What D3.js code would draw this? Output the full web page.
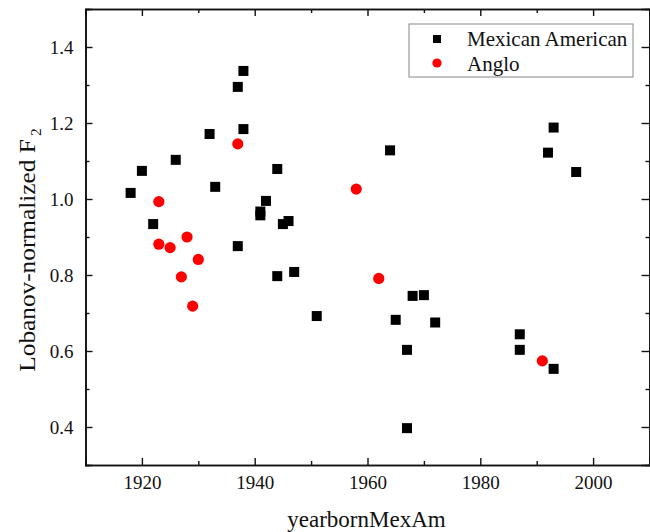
<!DOCTYPE html>
<html>
<head>
<meta charset="utf-8">
<script src="https://cdn.jsdelivr.net/npm/d3@7"></script>
<style>
  body { margin: 0; background: #fff; }
</style>
</head>
<body>
<div id="chart"></div>
<script>
// Mexican American speakers: birth year and normalized F2
const mexYears = [1918, 1920, 1926, 1932, 1922, 1933, 1937, 1938, 1938, 1937,
                  1941, 1941, 1942, 1944, 1944, 1945, 1946, 1947, 1951, 1964,
                  1965, 1967, 1968, 1970, 1972, 1967, 1987, 1987, 1992, 1993,
                  1993, 1997];
const mexF2 = [1.016, 1.074, 1.103, 1.171, 0.934, 1.032, 1.295, 1.337, 1.184, 0.876,
               0.967, 0.957, 0.995, 1.079, 0.797, 0.934, 0.942, 0.808, 0.692, 1.128,
               0.682, 0.603, 0.745, 0.747, 0.675, 0.397, 0.644, 0.603, 1.122, 1.188,
               0.553, 1.071];

// Anglo speakers
const angloYears = [1923, 1923, 1925, 1928, 1930, 1927, 1929, 1937, 1958, 1962, 1991];
const angloF2 = [0.993, 0.881, 0.872, 0.900, 0.841, 0.795, 0.718, 1.145, 1.026, 0.791, 0.574];

const xMajor = [1920, 1940, 1960, 1980, 2000];
const xMinor = [1930, 1950, 1970, 1990];
const yMajor = [0.4, 0.6, 0.8, 1.0, 1.2, 1.4];
const yMinor = [0.5, 0.7, 0.9, 1.1, 1.3];

const seriesNames = ["Mexican American", "Anglo"];

const W = 650, H = 532;
const mLeft = 85.5, mRight = 649.5, mTop = 9, mBottom = 465;
const serif = "'Liberation Serif', 'Times New Roman', serif";

const x = d3.scaleLinear().domain([1910, 2010]).range([mLeft, mRight]);
const y = d3.scaleLinear().domain([0.3, 1.5]).range([mBottom, mTop]);

const svg = d3.select("#chart").append("svg")
    .attr("width", W)
    .attr("height", H)
    .style("font-family", serif);

// axes: ticks point inward, labels only on bottom and left
function styleAxis(g) {
    g.attr("font-family", null);
    g.select(".domain").attr("stroke", "#111").attr("stroke-width", 1.6);
    g.selectAll(".tick line").attr("stroke", "#111").attr("stroke-width", 1.4);
    g.selectAll("text")
        .style("font-family", serif)
        .style("font-size", "19px")
        .attr("fill", "#111");
}

svg.append("g")
    .attr("transform", `translate(0,${mBottom})`)
    .call(d3.axisBottom(x).tickValues(xMajor).tickSize(-7).tickPadding(11).tickFormat(d3.format("d")))
    .call(styleAxis);
svg.append("g")
    .attr("transform", `translate(0,${mBottom})`)
    .call(d3.axisBottom(x).tickValues(xMinor).tickSize(-4).tickFormat(""))
    .call(styleAxis);

svg.append("g")
    .attr("transform", `translate(0,${mTop})`)
    .call(d3.axisTop(x).tickValues(xMajor).tickSize(-7).tickFormat(""))
    .call(styleAxis);
svg.append("g")
    .attr("transform", `translate(0,${mTop})`)
    .call(d3.axisTop(x).tickValues(xMinor).tickSize(-4).tickFormat(""))
    .call(styleAxis);

svg.append("g")
    .attr("transform", `translate(${mLeft},0)`)
    .call(d3.axisLeft(y).tickValues(yMajor).tickSize(-7).tickPadding(12).tickFormat(d3.format(".1f")))
    .call(styleAxis);
svg.append("g")
    .attr("transform", `translate(${mLeft},0)`)
    .call(d3.axisLeft(y).tickValues(yMinor).tickSize(-4).tickFormat(""))
    .call(styleAxis);

svg.append("g")
    .attr("transform", `translate(${mRight},0)`)
    .call(d3.axisRight(y).tickValues(yMajor).tickSize(-8).tickFormat(""))
    .call(styleAxis);
svg.append("g")
    .attr("transform", `translate(${mRight},0)`)
    .call(d3.axisRight(y).tickValues(yMinor).tickSize(-4).tickFormat(""))
    .call(styleAxis);

// points
const sq = 10;
svg.append("g").selectAll("rect")
    .data(mexYears)
    .enter()
    .append("rect")
    .attr("x", (d, i) => x(d) - sq / 2)
    .attr("y", (d, i) => y(mexF2[i]) - sq / 2)
    .attr("width", sq)
    .attr("height", sq)
    .attr("fill", "#000");

svg.append("g").selectAll("circle")
    .data(angloYears)
    .enter()
    .append("circle")
    .attr("cx", d => x(d))
    .attr("cy", (d, i) => y(angloF2[i]))
    .attr("r", 5.6)
    .attr("fill", "#f00");

// axis titles
svg.append("text")
    .attr("x", (mLeft + mRight) / 2 - 1)
    .attr("y", 527)
    .attr("text-anchor", "middle")
    .attr("fill", "#111")
    .style("font-size", "23px")
    .text("yearbornMexAm");

// the source picture is a little stretched vertically, so the rotated title is drawn longer
const yTitle = svg.append("text")
    .attr("transform", "translate(35,250) rotate(-90) scale(1.1,1)")
    .attr("text-anchor", "middle")
    .attr("fill", "#111")
    .style("font-size", "23px");
yTitle.append("tspan").text("Lobanov-normalized F");
yTitle.append("tspan")
    .style("font-size", "14px")
    .attr("dx", 3)
    .attr("dy", 6)
    .text("2");

// legend
const legend = svg.append("g").attr("transform", "translate(409,24)");
legend.append("rect")
    .attr("width", 224)
    .attr("height", 53)
    .attr("fill", "#fff")
    .attr("stroke", "#888")
    .attr("stroke-width", 1);
legend.append("rect")
    .attr("x", 24).attr("y", 11)
    .attr("width", 8).attr("height", 8)
    .attr("fill", "#000");
legend.append("circle")
    .attr("cx", 28).attr("cy", 39)
    .attr("r", 4.6)
    .attr("fill", "#f00");
legend.selectAll("text.lab")
    .data(seriesNames)
    .enter()
    .append("text")
    .attr("class", "lab")
    .attr("x", 58)
    .attr("y", (d, i) => 22 + i * 25)
    .attr("fill", "#111")
    .style("font-size", "21px")
    .text(d => d);
</script>
</body>
</html>
